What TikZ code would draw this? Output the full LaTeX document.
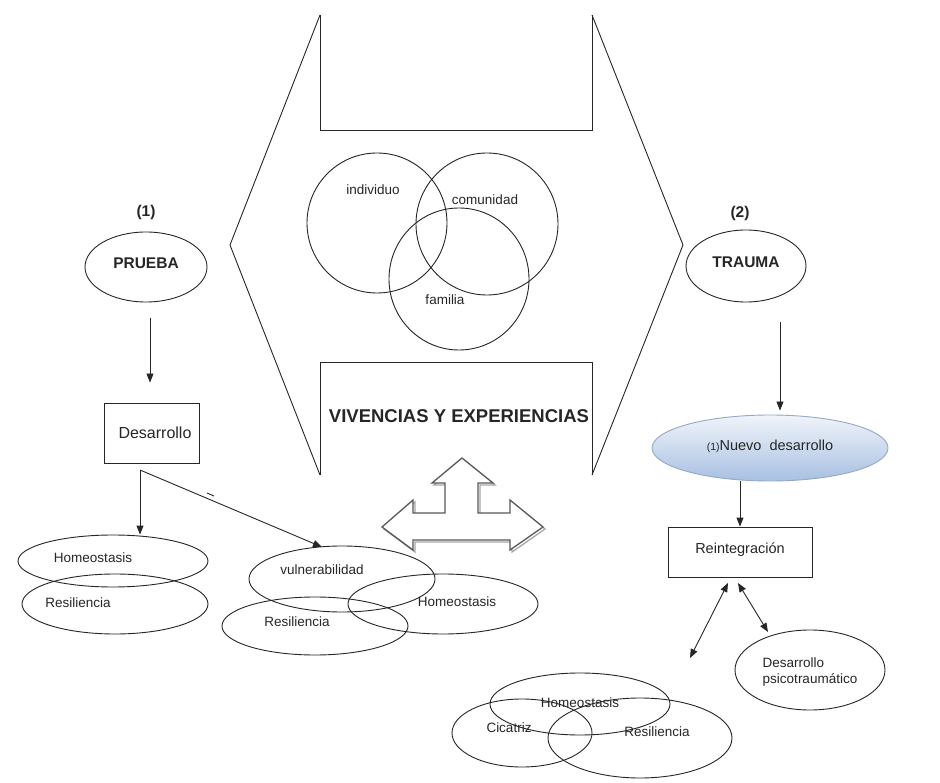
\documentclass[tikz,border=0pt]{standalone}
\usepackage{fontspec}
\setmainfont{Liberation Sans}
\usetikzlibrary{shapes.geometric,arrows.meta}
\begin{document}
\begin{tikzpicture}[x=1pt,y=-1pt,
  ln/.style={draw=black!85,line width=0.9pt},
  ell/.style={ellipse,ln,inner sep=0pt},
  lbl/.style={font=\fontsize{13.5}{15.5}\selectfont,text=black!85,inner sep=0pt},
  big/.style={font=\fontsize{15.5}{17}\selectfont\bfseries,text=black!85,inner sep=0pt},
  arr/.style={ln,-{Triangle[length=9pt,width=7pt]}},
  darr/.style={ln,{Triangle[length=9pt,width=7pt]}-{Triangle[length=9pt,width=7pt]}},
  box/.style={rectangle,ln,inner sep=0pt},
  tri/.style={line width=1.3pt,line join=miter}
]
\path[use as bounding box] (0,0) rectangle (940,783);
\fill[white] (0,0) rectangle (940,783);

% big double arrow
\draw[ln] (320,15) -- (320,130) -- (592,130) -- (592,15);
\draw[ln] (320,15) -- (230,245) -- (320,475);
\draw[ln] (592,15) -- (683,245) -- (592,475);
\draw[ln] (320,475) -- (320,362) -- (592,362) -- (592,475);

% circles
\node[ell,minimum width=140,minimum height=140] (ci) at (377,223) {};
\node[ell,minimum width=142,minimum height=142] (cc) at (487,224) {};
\node[ell,minimum width=140,minimum height=142] (cf) at (459,279) {};
\node[lbl] (ti) at (373,190) {individuo};
\node[lbl] (tc) at (485,200) {comunidad};
\node[lbl] (tf) at (445,300) {familia};
\node[font=\fontsize{18.5}{20}\selectfont\bfseries,text=black!85,inner sep=0pt] (viv) at (459,416) {VIVENCIAS Y EXPERIENCIAS};

% three-way arrow
\draw[black!35,tri,shift={(2,2)}] (382,527) -- (413,500) -- (413,513) -- (445,513) -- (445,483) -- (432,483) -- (462,458) -- (493,483) -- (478,483) -- (478,513) -- (510,513) -- (510,500) -- (543,527) -- (510,550) -- (510,540) -- (413,540) -- (413,550) -- cycle;
\draw[black!65,tri,fill=white] (382,527) -- (413,500) -- (413,513) -- (445,513) -- (445,483) -- (432,483) -- (462,458) -- (493,483) -- (478,483) -- (478,513) -- (510,513) -- (510,500) -- (543,527) -- (510,550) -- (510,540) -- (413,540) -- (413,550) -- cycle;

% left side
\node[big] (n1) at (146,212) {(1)};
\node[ell,minimum width=122,minimum height=70] (pru) at (146,267) {};
\node[big] (prut) at (146,263) {PRUEBA};
\coordinate (a1) at (150,318);
\node[box,minimum width=95,minimum height=60] (des) at (152,433) {};
\node[font=\fontsize{16}{18}\selectfont,text=black!85,inner sep=0pt] (dest) at (155,433) {Desarrollo};
\draw[arr] (a1) -- ([yshift=20]des.north -| a1);
\coordinate (j) at (140,470);

\node[ell,minimum width=190,minimum height=52] (lh) at (113,561) {};
\node[ell,minimum width=186,minimum height=60] (lr) at (115,604) {};
\node[lbl] (lht) at (93,558) {Homeostasis};
\node[lbl] (lrt) at (78,603) {Resiliencia};

\node[ell,minimum width=186,minimum height=66] (mv) at (342,579) {};
\node[ell,minimum width=190,minimum height=60] (mh) at (443,604) {};
\node[ell,minimum width=186,minimum height=58] (mr) at (315,626) {};
\node[lbl] (mvt) at (322,570) {vulnerabilidad};
\node[lbl] (mht) at (457,602) {Homeostasis};
\node[lbl] (mrt) at (297,622) {Resiliencia};

\draw[arr] (j) -- (j |- lh.north);
\draw[arr] (j) -- (322,547);
\draw[ln] (207,493) -- (214,496);

% right side
\node[big] (n2) at (740,213) {(2)};
\node[ell,minimum width=120,minimum height=72] (tra) at (746,266) {};
\node[big] (trat) at (746,262) {TRAUMA};
\coordinate (a2) at (780,322);
\node[ellipse,draw={rgb,255:red,150;green,168;blue,196},line width=0.9pt,top color={rgb,255:red,240;green,244;blue,250},bottom color={rgb,255:red,168;green,192;blue,226},minimum width=236,minimum height=66,inner sep=0pt] (nue) at (770,448) {};
\node[text=black!85,inner sep=0pt] (nuet) at (770,446) {{\fontsize{10.5}{12}\selectfont(1)}{\fontsize{14.5}{16}\selectfont Nuevo\ \ desarrollo}};
\draw[arr] (a2) -- ([yshift=4]nue.north -| a2);
\node[box,minimum width=144,minimum height=50] (rei) at (740,552) {};
\node[font=\fontsize{14.5}{16}\selectfont,text=black!85,inner sep=0pt] (reit) at (740,550) {Reintegración};
\draw[arr] (nue.south -| rei.north) -- (rei.north);

\node[ell,minimum width=150,minimum height=80] (dp) at (810,670) {};
\node[lbl,align=left] (dpt) at (810,672) {Desarrollo\\psicotraumático};

\node[ell,minimum width=180,minimum height=62] (bh) at (580,704) {};
\node[ell,minimum width=140,minimum height=68] (bc) at (522,733) {};
\node[ell,minimum width=184,minimum height=80] (br) at (640,738) {};
\node[lbl] (bht) at (580,703) {Homeostasis};
\node[lbl] (bct) at (509,728) {Cicatriz};
\node[lbl] (brt) at (657,732) {Resiliencia};

\coordinate (r1) at (728,583);
\coordinate (r2) at (738,583);
\draw[darr] (r1) -- (690,658);
\draw[darr] (r2) -- (768,632);
\end{tikzpicture}
\end{document}
